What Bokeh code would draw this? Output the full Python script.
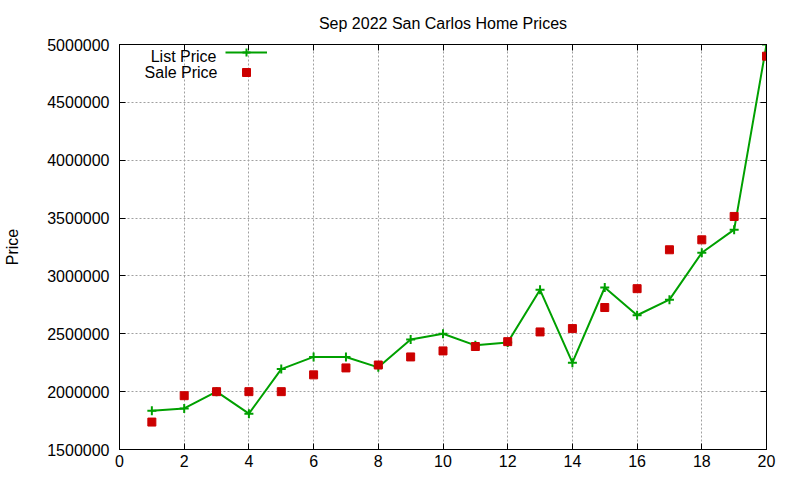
from bokeh.plotting import figure
from bokeh.models import (FixedTicker, BasicTickFormatter, LinearAxis, Legend,
                          LegendItem, Label, Range1d)
from bokeh.embed import file_html
from bokeh.resources import INLINE

# home index (sorted by list price)
homes = list(range(1, 21))
list_price = [1835000, 1855000, 2000000, 1810000, 2195000, 2300000, 2300000, 2210000,
              2450000, 2500000, 2400000, 2425000, 2880000, 2250000, 2900000, 2660000,
              2795000, 3200000, 3400000, 5000000]
sale_price = [1737000, 1965000, 2000000, 2000000, 2000000, 2145000, 2205000, 2230000,
              2300000, 2352000, 2390000, 2432000, 2516000, 2545000, 2727000, 2890000,
              3226000, 3312000, 3514000, 4899000]

x_ticks = list(range(0, 21, 2))
y_ticks = [1500000, 2000000, 2500000, 3000000, 3500000, 4000000, 4500000, 5000000]

FONT = "Liberation Sans"
GREEN = "#00a000"
RED = "#cc0000"

p = figure(width=800, height=480, output_backend="svg", toolbar_location=None,
           x_range=Range1d(0, 20), y_range=Range1d(1500000, 5000000),
           min_border_left=119, min_border_right=34, min_border_top=44, min_border_bottom=31,
           title="Sep 2022 San Carlos Home Prices")

p.title.text_font = FONT
p.title.text_font_size = "16px"
p.title.text_font_style = "normal"
p.title.text_color = "black"
p.title.align = "center"
p.title.standoff = 25

p.outline_line_color = "black"
p.outline_line_width = 1

# data
line_r = p.line(homes, list_price, line_color=GREEN, line_width=2)
plus_r = p.scatter(homes, list_price, marker="cross", size=9, line_color=GREEN, line_width=2)
sq_r = p.scatter(homes, sale_price, marker="square", size=8, fill_color=RED, line_color=RED)

# axes, gnuplot style (ticks inside, mirrored)
for ax in p.xaxis + p.yaxis:
    ax.major_tick_in = 6
    ax.major_tick_out = 0
    ax.minor_tick_line_color = None
    ax.axis_line_color = "black"
    ax.major_tick_line_color = "black"
    ax.major_label_text_font = FONT
    ax.major_label_text_font_size = "16px"
    ax.major_label_text_color = "black"
    ax.axis_label_text_font = FONT
    ax.axis_label_text_font_size = "16px"
    ax.axis_label_text_font_style = "normal"
    ax.axis_label_text_color = "black"

p.xaxis.ticker = FixedTicker(ticks=x_ticks)
p.xaxis.major_label_standoff = 5
p.yaxis.ticker = FixedTicker(ticks=y_ticks)
p.yaxis.formatter = BasicTickFormatter(use_scientific=False)
p.yaxis.major_label_standoff = 10
p.yaxis.axis_label = "Price"
p.yaxis.axis_label_standoff = 23

top = LinearAxis(ticker=FixedTicker(ticks=x_ticks), major_label_text_color=None,
                 major_label_standoff=0, major_tick_in=6, major_tick_out=0,
                 minor_tick_line_color=None, axis_line_color="black")
right = LinearAxis(ticker=FixedTicker(ticks=y_ticks), major_label_text_color=None,
                   major_label_standoff=0, major_tick_in=6, major_tick_out=0,
                   minor_tick_line_color=None, axis_line_color="black")
p.add_layout(top, "above")
p.add_layout(right, "right")

p.xgrid.ticker = FixedTicker(ticks=x_ticks)
p.ygrid.ticker = FixedTicker(ticks=y_ticks)
for g in p.xgrid + p.ygrid:
    g.grid_line_color = "#a0a0a0"
    g.grid_line_dash = "2 2"
    g.grid_line_width = 1

# key: text on the left, sample on the right
legend = Legend(items=[LegendItem(label="List Price", renderers=[line_r, plus_r]),
                       LegendItem(label="Sale Price", renderers=[sq_r])],
                location=(106, 367), glyph_width=42, glyph_height=20, padding=0,
                spacing=-4, label_standoff=0, label_width=0, label_height=16,
                background_fill_alpha=0, border_line_alpha=0, margin=0,
                label_text_color=None)
p.add_layout(legend)

p.add_layout(Label(x=97, y=393, x_units="screen", y_units="screen", text="List Price",
                   text_align="right", text_baseline="middle", text_font=FONT,
                   text_font_size="16px", text_color="black"))
p.add_layout(Label(x=98, y=377, x_units="screen", y_units="screen", text="Sale Price",
                   text_align="right", text_baseline="middle", text_font=FONT,
                   text_font_size="16px", text_color="black"))

open("out.html", "w").write(file_html(p, INLINE))
